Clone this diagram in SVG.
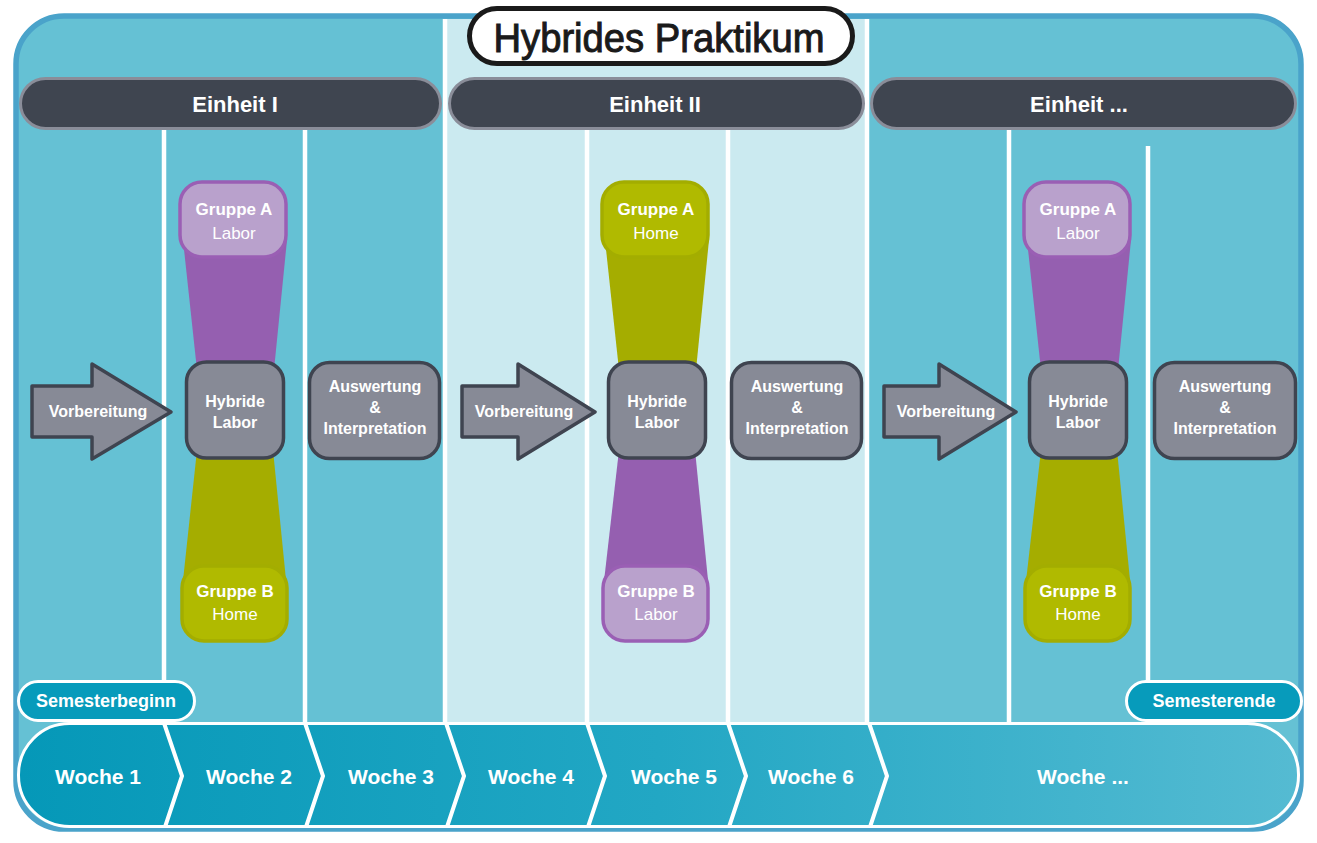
<svg xmlns="http://www.w3.org/2000/svg" width="1317" height="843" viewBox="0 0 1317 843">
<defs>
<linearGradient id="weekGrad" x1="0" y1="0" x2="1" y2="0">
<stop offset="0" stop-color="#0598b8"/>
<stop offset="0.5" stop-color="#22a7c4"/>
<stop offset="1" stop-color="#55bbd2"/>
</linearGradient>
<style>
text{font-family:"Liberation Sans",Arial,sans-serif;fill:#ffffff;text-anchor:middle}
.b{font-weight:bold}
.unit rect{fill:#3f4550;stroke:#8a8d99;stroke-width:3}
.unit text{font-size:22px;font-weight:bold}
.grey{fill:#878a96;stroke:#3f4450;stroke-width:3.5;stroke-linejoin:round}
.gtxt{font-size:16px;font-weight:bold}
.pbox{fill:#b9a1cc;stroke:#9a5fb4;stroke-width:3.5}
.obox{fill:#b0ba00;stroke:#a3ad00;stroke-width:3.5}
.ptrap{fill:#955fb0}
.otrap{fill:#a5ad00}
.gh{font-size:17px;font-weight:bold}
.gs{font-size:17px}
.vline{stroke:#ffffff;stroke-width:4.5}
.sem rect{fill:#079bbb;stroke:#ffffff;stroke-width:3}
.sem text{font-size:18px;font-weight:bold}
.wk{font-size:21px;font-weight:bold}
.sep{fill:none;stroke:#ffffff;stroke-width:4}
</style>
</defs>

<g id="frame">
<rect x="16" y="16" width="1285" height="813" rx="48" fill="#65c1d4" stroke="#4aa3ca" stroke-width="5.5"/>
<rect x="446" y="19" width="421" height="704" fill="#cbeaf0"/>
<line class="vline" x1="445" y1="19" x2="445" y2="723" stroke-width="5"/>
<line class="vline" x1="867" y1="19" x2="867" y2="723" stroke-width="6"/>
<line class="vline" x1="164" y1="129" x2="164" y2="723"/>
<line class="vline" x1="305" y1="129" x2="305" y2="723"/>
<line class="vline" x1="587" y1="129" x2="587" y2="723"/>
<line class="vline" x1="728" y1="129" x2="728" y2="723"/>
<line class="vline" x1="1009" y1="129" x2="1009" y2="723"/>
<line class="vline" x1="1148" y1="146" x2="1148" y2="723"/>
</g>

<g id="title">
<rect x="469.5" y="8.5" width="383" height="55" rx="27.5" fill="#ffffff" stroke="#1a1a1a" stroke-width="5"/>
<text x="659" y="52" style="fill:#1a1a1a;stroke:#1a1a1a;stroke-width:1;font-size:40px" textLength="331" lengthAdjust="spacingAndGlyphs">Hybrides Praktikum</text>
</g>

<g id="einheit1" class="unit">
<rect x="20.5" y="78.5" width="420" height="50" rx="25"/>
<text x="235" y="112">Einheit I</text>
</g>
<g id="einheit2" class="unit">
<rect x="449.5" y="78.5" width="414" height="50" rx="25"/>
<text x="655" y="112">Einheit II</text>
</g>
<g id="einheit3" class="unit">
<rect x="871.5" y="78.5" width="424" height="50" rx="25"/>
<text x="1079" y="112">Einheit ...</text>
</g>

<g id="connectors">
<polygon class="ptrap" points="183,240 287,240 274,370 197,370"/>
<polygon class="otrap" points="197,450 273,450 287,590 182,590"/>
<polygon class="otrap" points="605,240 709,240 696,370 619,370"/>
<polygon class="ptrap" points="619,450 695,450 709,590 603,590"/>
<polygon class="ptrap" points="1027,240 1131,240 1118,370 1041,370"/>
<polygon class="otrap" points="1041,450 1117,450 1131,590 1025,590"/>
</g>

<g id="grpA1">
<rect class="pbox" x="180" y="182" width="106" height="75" rx="22"/>
<text class="gh" x="234" y="215">Gruppe A</text>
<text class="gs" x="234" y="239">Labor</text>
</g>
<g id="grpB1">
<rect class="obox" x="182" y="566" width="105" height="75" rx="22"/>
<text class="gh" x="235" y="597">Gruppe B</text>
<text class="gs" x="235" y="620">Home</text>
</g>
<g id="grpA2">
<rect class="obox" x="602" y="182" width="106" height="75" rx="22"/>
<text class="gh" x="656" y="215">Gruppe A</text>
<text class="gs" x="656" y="239">Home</text>
</g>
<g id="grpB2">
<rect class="pbox" x="603" y="566" width="105" height="75" rx="22"/>
<text class="gh" x="656" y="597">Gruppe B</text>
<text class="gs" x="656" y="620">Labor</text>
</g>
<g id="grpA3">
<rect class="pbox" x="1024" y="182" width="106" height="75" rx="22"/>
<text class="gh" x="1078" y="215">Gruppe A</text>
<text class="gs" x="1078" y="239">Labor</text>
</g>
<g id="grpB3">
<rect class="obox" x="1025" y="566" width="105" height="75" rx="22"/>
<text class="gh" x="1078" y="597">Gruppe B</text>
<text class="gs" x="1078" y="620">Home</text>
</g>

<g id="vorb1">
<polygon class="grey" points="32,386 92,386 92,364 171,412 92,459 92,437 32,437"/>
<text class="gtxt" x="98" y="417">Vorbereitung</text>
</g>
<g id="vorb2">
<polygon class="grey" points="462,386 518,386 518,364 595,412 518,459 518,437 462,437"/>
<text class="gtxt" x="524" y="417">Vorbereitung</text>
</g>
<g id="vorb3">
<polygon class="grey" points="884,386 939,386 939,364 1016,412 939,459 939,437 884,437"/>
<text class="gtxt" x="946" y="417">Vorbereitung</text>
</g>

<g id="hyb1">
<rect class="grey" x="186.5" y="362" width="97" height="96" rx="20"/>
<text class="gtxt" x="235" y="407">Hybride</text>
<text class="gtxt" x="235" y="428">Labor</text>
</g>
<g id="hyb2">
<rect class="grey" x="608.5" y="362" width="97" height="96" rx="20"/>
<text class="gtxt" x="657" y="407">Hybride</text>
<text class="gtxt" x="657" y="428">Labor</text>
</g>
<g id="hyb3">
<rect class="grey" x="1029.5" y="362" width="97" height="96" rx="20"/>
<text class="gtxt" x="1078" y="407">Hybride</text>
<text class="gtxt" x="1078" y="428">Labor</text>
</g>

<g id="ausw1">
<rect class="grey" x="309.5" y="362.5" width="130" height="96" rx="20"/>
<text class="gtxt" x="375" y="392">Auswertung</text>
<text class="gtxt" x="375" y="413">&amp;</text>
<text class="gtxt" x="375" y="434">Interpretation</text>
</g>
<g id="ausw2">
<rect class="grey" x="731.5" y="362.5" width="130" height="96" rx="20"/>
<text class="gtxt" x="797" y="392">Auswertung</text>
<text class="gtxt" x="797" y="413">&amp;</text>
<text class="gtxt" x="797" y="434">Interpretation</text>
</g>
<g id="ausw3">
<rect class="grey" x="1154.5" y="362.5" width="141" height="96" rx="20"/>
<text class="gtxt" x="1225" y="392">Auswertung</text>
<text class="gtxt" x="1225" y="413">&amp;</text>
<text class="gtxt" x="1225" y="434">Interpretation</text>
</g>

<g id="weeks">
<rect x="18.5" y="723.5" width="1280" height="103" rx="51" fill="url(#weekGrad)" stroke="#ffffff" stroke-width="3"/>
<polyline class="sep" points="164,723 182,776 165,827"/>
<polyline class="sep" points="305,723 323,776 306,827"/>
<polyline class="sep" points="446,723 464,776 447,827"/>
<polyline class="sep" points="587,723 605,776 588,827"/>
<polyline class="sep" points="728,723 746,776 729,827"/>
<polyline class="sep" points="869,723 887,776 870,827"/>
<text class="wk" x="98" y="784">Woche 1</text>
<text class="wk" x="249" y="784">Woche 2</text>
<text class="wk" x="391" y="784">Woche 3</text>
<text class="wk" x="531" y="784">Woche 4</text>
<text class="wk" x="674" y="784">Woche 5</text>
<text class="wk" x="811" y="784">Woche 6</text>
<text class="wk" x="1083" y="784">Woche ...</text>
</g>

<g id="semBeginn" class="sem">
<rect x="18.5" y="681.5" width="176" height="39" rx="19.5"/>
<text x="106" y="707">Semesterbeginn</text>
</g>
<g id="semEnde" class="sem">
<rect x="1126.5" y="681.5" width="175" height="39" rx="19.5"/>
<text x="1214" y="707">Semesterende</text>
</g>
</svg>
